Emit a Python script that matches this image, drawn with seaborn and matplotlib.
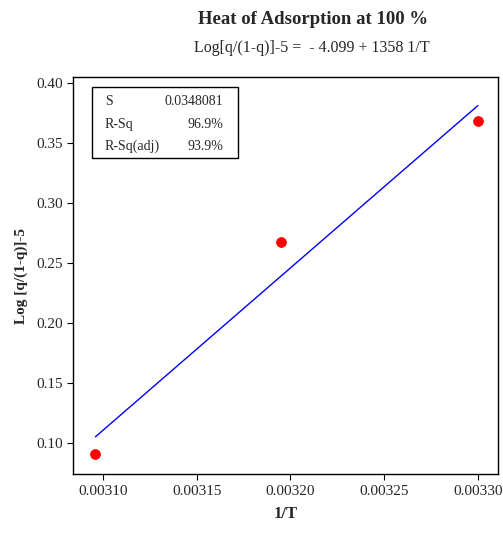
import matplotlib
matplotlib.use("Agg")
import matplotlib.pyplot as plt
import seaborn as sns

# data
inv_T = [0.003096, 0.003195, 0.003300]
log_q = [0.0905, 0.267, 0.368]
fit_x = [0.003096, 0.003300]
fit_y = [0.105, 0.381]
x_ticks = [0.00310, 0.00315, 0.00320, 0.00325, 0.00330]
y_ticks = [0.10, 0.15, 0.20, 0.25, 0.30, 0.35, 0.40]
stat_names = ["S", "R-Sq", "R-Sq(adj)"]
stat_values = ["0.0348081", "96.9%", "93.9%"]

sns.set_style("ticks")
plt.rcParams["font.family"] = ["Liberation Serif", "DejaVu Serif"]

fig = plt.figure(figsize=(5.03, 5.33), dpi=100)
ax = fig.add_axes([0.145, 0.110, 0.845, 0.746])

sns.lineplot(x=fit_x, y=fit_y, color="blue", linewidth=1.0, ax=ax)
sns.scatterplot(x=inv_T, y=log_q, color="red", s=50, edgecolor="red", ax=ax, zorder=3)

ax.set_xlim(0.003084, 0.0033107)
ax.set_ylim(0.0737, 0.405)
ax.set_xticks(x_ticks)
ax.set_xticklabels([f"{v:.5f}" for v in x_ticks])
ax.set_yticks(y_ticks)
ax.set_yticklabels([f"{v:.2f}" for v in y_ticks])
ax.tick_params(labelsize=11, length=4, width=0.8, color="black", direction="out")
for s in ax.spines.values():
    s.set_visible(True)
    s.set_linewidth(1.0)
    s.set_color("black")

ax.set_xlabel("1/T", fontsize=12, fontweight="bold", labelpad=6)
ax.set_ylabel("Log [q/(1-q)]-5", fontsize=11, fontweight="bold", labelpad=6)

fig.text(0.622, 0.963, "Heat of Adsorption at 100 %", ha="center", va="center",
         fontsize=13.5, fontweight="bold")
fig.text(0.620, 0.910, "Log[q/(1-q)]-5 =  - 4.099 + 1358 1/T", ha="center", va="center",
         fontsize=11.5)

# stats box
box = plt.Rectangle((0.046, 0.796), 0.343, 0.177, transform=ax.transAxes,
                    fill=False, edgecolor="black", linewidth=1.0)
ax.add_patch(box)
for i, (n, v) in enumerate(zip(stat_names, stat_values)):
    yy = 0.938 - i * 0.057
    ax.text(0.075, yy, n, transform=ax.transAxes, fontsize=10, va="center")
    ax.text(0.353, yy, v, transform=ax.transAxes, fontsize=10, va="center", ha="right")

fig.savefig("out.png", dpi=100)
